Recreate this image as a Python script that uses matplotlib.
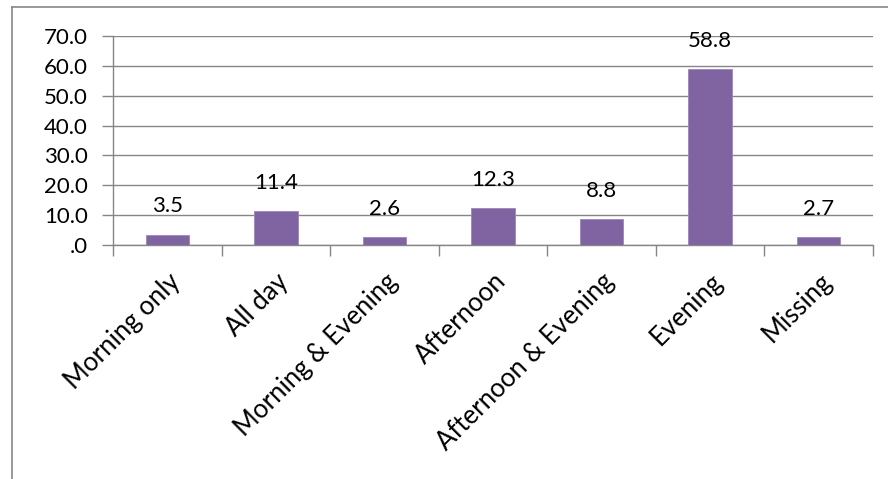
import numpy as np
import matplotlib.pyplot as plt
from matplotlib.lines import Line2D

# data
categories = ['Morning only', 'All day', 'Morning & Evening', 'Afternoon',
              'Afternoon & Evening', 'Evening', 'Missing']
values = [3.5, 11.4, 2.6, 12.3, 8.8, 58.8, 2.7]
yticks = [0, 10, 20, 30, 40, 50, 60, 70]
ytick_labels = ['.0', '10.0', '20.0', '30.0', '40.0', '50.0', '60.0', '70.0']

plt.rcParams['font.family'] = ['Lato', 'DejaVu Sans']
grey = '#868686'
bar_col = '#8064A2'
fs = 16

W, H = 888, 479
fig = plt.figure(figsize=(W/100, H/100), dpi=100)
# axes box in pixels: left 113, right 873, top 36, bottom 245
ax = fig.add_axes([113/W, 1 - 245/H, (873-113)/W, (245-36)/H])

x = np.arange(len(categories))
ax.bar(x, values, width=0.4, color=bar_col, edgecolor='#9a86b8', linewidth=0.6, zorder=3)

for xi, v in zip(x, values):
    ax.annotate(f'{v:.1f}', xy=(xi, v), xytext=(0, 13), textcoords='offset points',
                ha='center', va='bottom', fontsize=fs, color='black')

ax.set_xlim(-0.5, len(categories) - 0.5)
ax.set_ylim(0, 70)
ax.set_yticks(yticks)
ax.set_yticklabels(ytick_labels, fontsize=fs)
ax.yaxis.grid(True, color=grey, linewidth=1, zorder=0)

# category ticks sit between bars
ax.set_xticks(np.arange(-0.5, len(categories)), minor=False)
ax.set_xticklabels([])
ax.set_xticks(x, minor=True)
ax.set_xticklabels(categories, minor=True, rotation=45, ha='right', va='top',
                   rotation_mode='anchor', fontsize=18.5)
ax.tick_params(axis='x', which='minor', length=0, pad=17)
ax.tick_params(axis='x', which='major', length=8, color=grey, width=1)
ax.tick_params(axis='y', length=8, color=grey, width=1, pad=10)

for s in ['top', 'right']:
    ax.spines[s].set_visible(False)
for s in ['left', 'bottom']:
    ax.spines[s].set_color(grey)
    ax.spines[s].set_linewidth(1)

# outer chart frame (only left/top edges visible)
fig.add_artist(Line2D([12/W, 12/W], [0, 1 - 7/H], color=grey, linewidth=1.2))
fig.add_artist(Line2D([12/W, 1], [1 - 7/H, 1 - 7/H], color=grey, linewidth=1.2))

fig.savefig('out.png', dpi=100)
